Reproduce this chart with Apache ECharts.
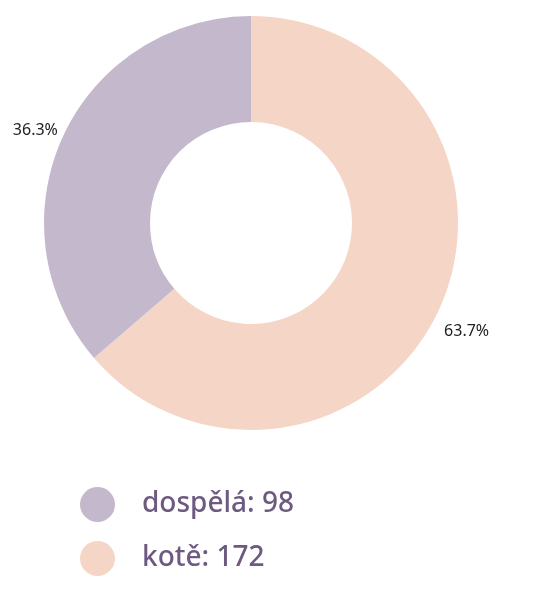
<!DOCTYPE html>
<html>
<head>
<meta charset="utf-8">
<script src="https://cdn.jsdelivr.net/npm/echarts@6/dist/echarts.min.js"></script>
<style>
  html, body { margin: 0; padding: 0; background: #fff; }
  #chart { width: 540px; height: 589px; }
</style>
</head>
<body>
<div id="chart"></div>
<script>
var names = ['kotě', 'dospělá'];
var values = [172, 98];
var colors = ['#f5d6c6', '#c4b9cc'];
var legendOrder = ['dospělá', 'kotě'];

var myChart = echarts.init(document.getElementById('chart'));

var data = names.map(function (n, i) {
    return { name: n, value: values[i], itemStyle: { color: colors[i] } };
});

var option = {
    backgroundColor: '#fff',
    legend: {
        data: legendOrder,
        orient: 'vertical',
        left: 75,
        top: 482,
        icon: 'circle',
        itemWidth: 35,
        itemHeight: 35,
        itemGap: 19,
        textStyle: {
            color: '#6e5a80',
            fontSize: 28,
            fontWeight: 500,
            fontFamily: 'Noto Sans',
            padding: [0, 0, 0, 22]
        },
        formatter: function (name) {
            return name + ': ' + values[names.indexOf(name)];
        }
    },
    series: [
        {
            type: 'pie',
            radius: [101, 207],
            center: [251, 223],
            startAngle: 90,
            clockwise: true,
            data: data,
            label: {
                show: true,
                position: 'outside',
                overflow: 'none',
                formatter: function (p) { return p.percent.toFixed(1) + '%'; },
                color: '#222',
                fontSize: 16,
                fontFamily: 'Noto Sans'
            },
            labelLine: { show: false, length: 0, length2: 0 },
            // labels sit a bit off the mid-angle in the original
            labelLayout: function (p) {
                return { dy: p.labelRect.x > 251 ? 22 : -6 };
            },
            emphasis: { disabled: true },
            animation: false
        }
    ]
};
myChart.setOption(option);
</script>
</body>
</html>
